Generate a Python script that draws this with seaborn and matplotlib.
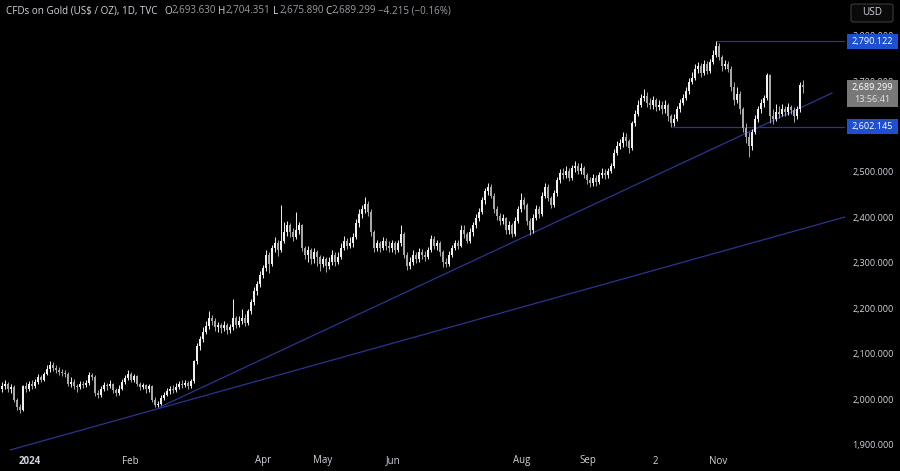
import numpy as np
import pandas as pd
import matplotlib
matplotlib.use("Agg")
import matplotlib.pyplot as plt
from matplotlib.patches import Rectangle, FancyBboxPatch
import seaborn as sns

# ---------------- data ----------------
first_open = 2025.0
closes = [
    2030, 2035, 2025, 2028, 2000, 1985, 1978, 2030, 2025, 2035,
    2030, 2040, 2050, 2045, 2058, 2068, 2078, 2070, 2065, 2062,
    2060, 2058, 2035, 2040, 2030, 2028, 2035, 2032, 2038, 2055,
    2050, 2015, 2010, 2025, 2032, 2030, 2035, 2022, 2015, 2025,
    2040, 2048, 2058, 2045, 2052, 2035, 2028, 2032, 2025, 2030,
    2000, 1990, 1992, 2005, 2012, 2020, 2025, 2022, 2028, 2035,
    2033, 2038, 2030, 2042, 2085, 2118, 2135, 2150, 2162, 2180,
    2175, 2160, 2165, 2158, 2165, 2155, 2160, 2180, 2165, 2175,
    2180, 2170, 2195, 2215, 2240, 2255, 2275, 2290, 2320, 2300,
    2335, 2345, 2330, 2350, 2370, 2385, 2370, 2360, 2375, 2385,
    2335, 2320, 2330, 2310, 2325, 2315, 2300, 2310, 2295, 2305,
    2320, 2305, 2315, 2335, 2350, 2340, 2345, 2360, 2390, 2410,
    2420, 2432, 2415, 2370, 2335, 2345, 2335, 2350, 2340, 2335,
    2345, 2330, 2345, 2365, 2320, 2295, 2305, 2320, 2310, 2325,
    2320, 2315, 2330, 2355, 2340, 2345, 2325, 2305, 2300, 2320,
    2335, 2345, 2340, 2375, 2365, 2350, 2370, 2385, 2400, 2415,
    2440, 2460, 2470, 2450, 2420, 2405, 2395, 2400, 2375, 2385,
    2365, 2395, 2420, 2440, 2430, 2395, 2375, 2400, 2420, 2410,
    2450, 2470, 2445, 2430, 2455, 2485, 2500, 2495, 2505, 2490,
    2510, 2515, 2505, 2512, 2495, 2485, 2478, 2490, 2480, 2495,
    2500, 2495, 2505, 2515, 2545, 2560, 2565, 2580, 2570, 2555,
    2610, 2630, 2650, 2665, 2670, 2655, 2650, 2660, 2645, 2650,
    2640, 2650, 2625, 2610, 2620, 2640, 2655, 2665, 2680, 2700,
    2710, 2730, 2735, 2720, 2740, 2725, 2745, 2760, 2780, 2755,
    2735, 2740, 2730, 2690, 2660, 2675, 2640, 2600, 2580, 2560,
    2590, 2620, 2640, 2655, 2665, 2715, 2625, 2620, 2635, 2630,
    2640, 2635, 2645, 2638, 2625, 2640, 2693.63, 2689.299,
]
highs = [
    2040, 2045, 2040, 2036, 2032, 2005, 1992, 2034, 2040, 2042,
    2044, 2046, 2058, 2056, 2062, 2078, 2086, 2084, 2076, 2072,
    2068, 2066, 2062, 2050, 2046, 2036, 2042, 2042, 2044, 2062,
    2060, 2054, 2022, 2030, 2040, 2038, 2044, 2038, 2026, 2032,
    2046, 2054, 2066, 2062, 2058, 2056, 2040, 2038, 2036, 2036,
    2034, 2006, 1998, 2010, 2018, 2026, 2030, 2032, 2038, 2042,
    2044, 2045, 2042, 2046, 2088, 2125, 2142, 2160, 2175, 2195,
    2188, 2180, 2172, 2170, 2175, 2170, 2168, 2222, 2186, 2185,
    2200, 2190, 2200, 2222, 2250, 2262, 2285, 2298, 2330, 2326,
    2342, 2360, 2352, 2430, 2392, 2395, 2390, 2378, 2414, 2392,
    2388, 2340, 2340, 2334, 2335, 2330, 2320, 2318, 2315, 2315,
    2330, 2326, 2325, 2345, 2362, 2356, 2358, 2368, 2398, 2420,
    2430, 2448, 2438, 2420, 2375, 2352, 2350, 2358, 2356, 2350,
    2352, 2350, 2352, 2386, 2370, 2325, 2315, 2330, 2326, 2334,
    2332, 2328, 2338, 2364, 2362, 2352, 2350, 2330, 2312, 2328,
    2342, 2352, 2352, 2386, 2385, 2370, 2378, 2392, 2410, 2422,
    2448, 2468, 2478, 2476, 2455, 2428, 2412, 2410, 2404, 2395,
    2390, 2402, 2428, 2455, 2448, 2434, 2400, 2410, 2430, 2428,
    2458, 2478, 2475, 2450, 2462, 2492, 2508, 2510, 2516, 2510,
    2518, 2526, 2522, 2522, 2516, 2500, 2492, 2498, 2495, 2502,
    2510, 2508, 2512, 2522, 2552, 2570, 2575, 2590, 2588, 2575,
    2615, 2638, 2660, 2675, 2685, 2678, 2666, 2670, 2665, 2660,
    2658, 2660, 2655, 2630, 2630, 2648, 2662, 2675, 2690, 2710,
    2722, 2740, 2745, 2742, 2748, 2746, 2752, 2770, 2790, 2786,
    2760, 2750, 2746, 2735, 2700, 2690, 2680, 2645, 2610, 2590,
    2598, 2628, 2648, 2662, 2672, 2721, 2718, 2640, 2652, 2648,
    2652, 2648, 2655, 2650, 2645, 2648, 2700, 2704.351,
]
lows = [
    2018, 2025, 2018, 2015, 1995, 1978, 1972, 1975, 2018, 2020,
    2024, 2026, 2036, 2040, 2042, 2054, 2062, 2064, 2060, 2056,
    2052, 2050, 2030, 2028, 2024, 2018, 2024, 2026, 2028, 2034,
    2044, 2008, 2004, 2006, 2020, 2022, 2026, 2016, 2008, 2012,
    2022, 2036, 2044, 2040, 2040, 2030, 2022, 2024, 2016, 2018,
    1995, 1984, 1984, 1988, 2000, 2008, 2014, 2016, 2018, 2024,
    2026, 2028, 2025, 2026, 2038, 2080, 2110, 2128, 2145, 2156,
    2165, 2152, 2150, 2148, 2152, 2146, 2148, 2155, 2158, 2160,
    2168, 2162, 2165, 2190, 2210, 2232, 2250, 2268, 2285, 2280,
    2296, 2325, 2318, 2325, 2345, 2362, 2358, 2350, 2355, 2365,
    2328, 2310, 2305, 2300, 2302, 2296, 2285, 2292, 2282, 2288,
    2298, 2296, 2300, 2310, 2330, 2332, 2335, 2338, 2355, 2382,
    2400, 2412, 2405, 2362, 2326, 2328, 2326, 2330, 2330, 2325,
    2326, 2322, 2325, 2340, 2312, 2286, 2288, 2298, 2302, 2304,
    2310, 2306, 2310, 2325, 2332, 2330, 2318, 2294, 2292, 2296,
    2315, 2330, 2332, 2336, 2356, 2345, 2345, 2362, 2378, 2395,
    2410, 2432, 2452, 2444, 2412, 2396, 2386, 2388, 2365, 2366,
    2358, 2362, 2390, 2415, 2420, 2385, 2364, 2368, 2396, 2400,
    2405, 2445, 2438, 2422, 2426, 2450, 2478, 2486, 2490, 2482,
    2485, 2502, 2498, 2498, 2488, 2476, 2470, 2472, 2472, 2476,
    2488, 2486, 2490, 2500, 2510, 2540, 2552, 2558, 2560, 2545,
    2550, 2604, 2625, 2645, 2658, 2645, 2640, 2642, 2636, 2638,
    2630, 2632, 2615, 2602, 2603, 2615, 2635, 2650, 2660, 2675,
    2695, 2705, 2720, 2712, 2715, 2718, 2720, 2740, 2755, 2748,
    2725, 2728, 2722, 2680, 2650, 2655, 2630, 2590, 2565, 2536,
    2550, 2585, 2612, 2632, 2645, 2660, 2610, 2608, 2615, 2622,
    2625, 2626, 2628, 2630, 2612, 2620, 2635, 2675.89,
]
opens = [first_open] + closes[:-2] + [2693.63]

x_tick_pos = [9.3, 42.7, 87.0, 107.0, 130.3, 173.3, 195.3, 217.7, 238.7]
x_tick_labels = ["2024", "Feb", "Apr", "May", "Jun", "Aug", "Sep", "2", "Nov"]
y_tick_values = [1900, 2000, 2100, 2200, 2300, 2400, 2500, 2600, 2700, 2800]

# drawings: trendlines (bar index, price) and horizontal levels
trend_a_x = [52.7, 276.7]
trend_a_y = [1984.6, 2676.2]
trend_b_x = [2.7, 281.0]
trend_b_y = [1889.9, 2403.1]
level_hi = 2790.122
level_hi_start = 238.0
level_lo = 2602.145
level_lo_start = 223.3

last_price = 2689.299
countdown = "13:56:41"

# ---------------- plotting ----------------
sns.set_theme(style="dark")
plt.rcParams["font.family"] = ["Open Sans", "DejaVu Sans"]

W, H = 900, 471
fig = plt.figure(figsize=(W / 100, H / 100), dpi=100)
fig.patch.set_facecolor("#000000")
ax = fig.add_axes([0, 0, 845 / W, 1])
ax.set_facecolor("#000000")
for s in ax.spines.values():
    s.set_visible(False)
ax.set_xticks([])
ax.set_yticks([])
ax.grid(False)

df = pd.DataFrame({"o": opens, "h": highs, "l": lows, "c": closes})
df["i"] = np.arange(len(df))
up = df["c"] >= df["o"]
col_up, col_dn = "#f0f0f0", "#a8a8a8"
colors = np.where(up, col_up, col_dn)

ax.vlines(df["i"], df["l"], df["h"], colors=colors, linewidth=0.7, zorder=3)
body_lo = np.minimum(df["o"], df["c"])
body_h = np.maximum(np.abs(df["c"] - df["o"]), 0.8)
ax.bar(df["i"], body_h, bottom=body_lo, width=0.62, color=colors,
       linewidth=0, zorder=4)

line_col = "#2a3590"
sns.lineplot(x=trend_a_x, y=trend_a_y, ax=ax, color=line_col, linewidth=0.9, zorder=2)
sns.lineplot(x=trend_b_x, y=trend_b_y, ax=ax, color=line_col, linewidth=0.9, zorder=2)
ax.hlines([level_hi, level_lo], [level_hi_start, level_lo_start], 281.5,
          colors=line_col, linewidth=0.9, zorder=2)

ymin = 2000 - 71 / 0.454
ymax = 2000 + 400 / 0.454
ax.set_xlim(-2 / 3, 281)
ax.set_ylim(ymin, ymax)

txt_col = "#d1d4dc"
# x labels
trans = matplotlib.transforms.blended_transform_factory(ax.transData, ax.transAxes)
for xp, lab in zip(x_tick_pos, x_tick_labels):
    ax.text(xp, 1 - 461 / H, lab, transform=trans, ha="center", va="center",
            color=txt_col, fontsize=7,
            fontweight="bold" if lab == "2024" else "normal")

def py(price):
    return 400 - (price - 2000) * 0.454

def fx(px):
    return px / W

def fy(pyv):
    return 1 - pyv / H

# y labels (the 2,800 and 2,700 ones sit partly under the price boxes, as in TradingView)
for v in y_tick_values:
    fig.text(fx(873), fy(py(v)), f"{v:,.3f}", ha="center", va="center",
             color=txt_col, fontsize=6.5, zorder=1)

# level boxes
def price_box(price, face, lines, height=15, line_cols=None):
    yc = py(price)
    top = yc - 7.5
    box_h = height
    fig.add_artist(Rectangle((fx(847), fy(top + box_h)), 51 / W, box_h / H,
                             transform=fig.transFigure, facecolor=face,
                             edgecolor="none", zorder=5))
    for k, t in enumerate(lines):
        c = "#ffffff" if line_cols is None else line_cols[k]
        fig.text(fx(872.5), fy(yc + k * 12), t, ha="center", va="center",
                 color=c, fontsize=6.6, zorder=6)

price_box(level_hi, "#1f4fd1", [f"{level_hi:,.3f}"])
price_box(level_lo, "#1f4fd1", [f"{level_lo:,.3f}"])
price_box(last_price, "#787878", [f"{last_price:,.3f}", countdown], height=27,
          line_cols=["#ffffff", "#e6e6e6"])

# USD box
fig.add_artist(FancyBboxPatch((fx(851), fy(22)), 42 / W, 18 / H,
                              boxstyle="round,pad=0,rounding_size=0.004",
                              transform=fig.transFigure, facecolor="#0a0a0a",
                              edgecolor="#3a3a3a", linewidth=0.8, zorder=5))
fig.text(fx(872), fy(12.5), "USD", ha="center", va="center", color=txt_col,
         fontsize=7.2, zorder=6)

# header
val_col = "#9a9ca3"
ty = fy(11)
hfs = 7.1
fig.text(fx(6), ty, "CFDs on Gold (US$ / OZ), 1D, TVC", color=txt_col,
         fontsize=hfs, va="center", ha="left")
for lx, letter, vx, val in [(164, "O", 171, "2,693.630"), (218, "H", 226, "2,704.351"),
                            (273, "L", 279, "2,675.890"), (325, "C", 331, "2,689.299")]:
    fig.text(fx(lx), ty, letter, color=txt_col, fontsize=hfs, va="center", ha="left")
    fig.text(fx(vx), ty, val, color=val_col, fontsize=hfs, va="center", ha="left")
fig.text(fx(378), ty, "\u22124.215 (\u22120.16%)", color=val_col, fontsize=hfs,
         va="center", ha="left")

fig.savefig("out.png", dpi=100, facecolor=fig.get_facecolor())
